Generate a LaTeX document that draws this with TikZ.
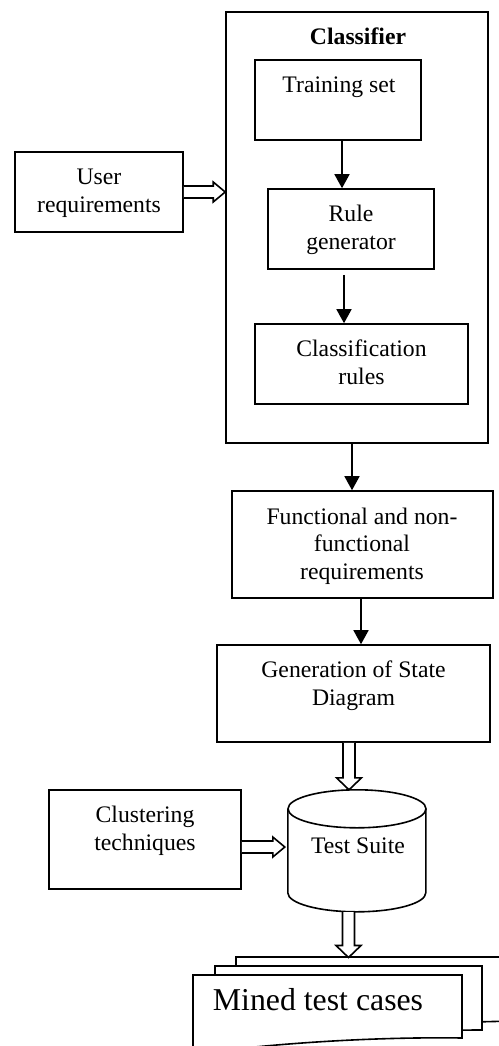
\documentclass[tikz,border=0pt]{standalone}
\usepackage{fontspec}
\setmainfont{Liberation Serif}
\usetikzlibrary{arrows.meta,calc}
\tikzset{
 box/.style={draw, line width=1.6pt, inner sep=0pt, fill=white},
 txt/.style={inner sep=0pt, align=center, font=\fontsize{23.7}{27.3}\selectfont, anchor=base},
 arr/.style={line width=1.6pt, -{Triangle[width=15pt,length=14pt]}},
 hollow/.style={line width=1.6pt, fill=white, line join=miter},
 doc/.style={draw, line width=1.6pt, fill=white},
}
\newcommand\vhollow[2]{\draw[hollow] let \p1=(#1), \p2=(#2) in (\x1-6pt,\y1) -- (\x1-6pt,\y2+12pt) -- (\x1-12.5pt,\y2+12pt) -- (\x1,\y2) -- (\x1+12.5pt,\y2+12pt) -- (\x1+6pt,\y2+12pt) -- (\x1+6pt,\y1);}
\newcommand\hhollow[2]{\draw[hollow] let \p1=(#1), \p2=(#2) in (\x1,\y1+6pt) -- (\x2-12pt,\y1+6pt) -- (\x2-12pt,\y1+10pt) -- (\x2,\y1) -- (\x2-12pt,\y1-10pt) -- (\x2-12pt,\y1-6pt) -- (\x1,\y1-6pt);}
\begin{document}
\begin{tikzpicture}[x=1pt,y=1pt]
\useasboundingbox[fill=white] (0,0) rectangle (498,-1046);
% classifier container
\node[box, minimum width=262, minimum height=431] (cls) at (357,-227.5) {};
\node[txt] (tcls) at (358,-45) {\bfseries Classifier};
\node[box, minimum width=166, minimum height=80] (ts) at (338,-100) {};
\node[txt] (tts) at (339,-93) {Training set};
\node[box, minimum width=166, minimum height=80] (rg) at (351,-229) {};
\node[txt] (trg) at (351,-249) {Rule\\generator};
\node[box, minimum width=213, minimum height=80] (cr) at (361.5,-364) {};
\node[txt] (tcr) at (361.5,-384) {Classification\\rules};
% user requirements
\node[box, minimum width=168, minimum height=80] (user) at (99,-192) {};
\node[txt] (tuser) at (99,-212) {User\\requirements};
% functional
\node[box, minimum width=261, minimum height=107] (fn) at (362.5,-544.5) {};
\node[txt] (tfn) at (362,-579) {Functional and non-\\functional\\requirements};
% generation
\node[box, minimum width=273, minimum height=97] (gen) at (353.5,-693.5) {};
\node[txt] (tgen) at (353.5,-705) {Generation of State\\Diagram};
% clustering
\node[box, minimum width=192, minimum height=99] (clu) at (145,-839.5) {};
\node[txt] (tclu) at (145,-850) {Clustering\\techniques};
% test suite cylinder
\node[inner sep=0pt, minimum width=138, minimum height=122] (cyl) at (357,-851) {};
\draw[line width=1.6pt, fill=white] (cyl.north west) ++(0,-19) -- ++(0,-84) arc[start angle=180, end angle=360, x radius=69, y radius=19] -- ++(0,84);
\draw[line width=1.6pt] ($(cyl.north)+(0,-19)$) ellipse[x radius=69, y radius=19];
\node[txt] (tcyl) at (358,-853) {Test Suite};
% documents
\draw[doc] (236,-957) -- (520,-957) -- (520,-1021) .. controls (440,-1022) and (330,-1028) .. (236,-1040) -- cycle;
\draw[doc] (215,-966) -- (482,-966) -- (482,-1030) .. controls (420,-1030) and (330,-1034) .. (215,-1048) -- cycle;
\draw[doc] (193,-975) -- (462,-975) -- (462,-1038) .. controls (400,-1037) and (300,-1040) .. (193,-1054) -- cycle;
\node[txt, font=\fontsize{31.8}{36}\selectfont] (tmined) at (318,-1010) {Mined test cases};
\coordinate (backtop) at (348.5,-957.5);
% single arrows
\coordinate (a1) at ($(ts.south)+(4,0)$);
\draw[arr] (a1) -- (a1 |- rg.north);
\coordinate (a2) at ($(rg.south)+(-7,-5)$);
\draw[arr] (a2) -- (a2 |- cr.north);
\coordinate (a3) at ($(cls.south)+(-5,0)$);
\draw[arr] (a3) -- (a3 |- fn.north);
\coordinate (a4) at ($(fn.south)+(-1.5,0)$);
\draw[arr] (a4) -- (a4 |- gen.north);
% hollow arrows
\hhollow{user.east}{cls.west}
\coordinate (c1) at ($(gen.south)+(-4.5,0)$);
\vhollow{c1}{cyl.north}
\coordinate (c2) at ($(clu.east)+(0,-7.5)$);
\coordinate (c3) at ($(cyl.west)+(-3,0)$);
\hhollow{c2}{c3}
\coordinate (c4) at ($(cyl.south)+(-8.5,0)$);
\vhollow{c4}{backtop}
\end{tikzpicture}
\end{document}
